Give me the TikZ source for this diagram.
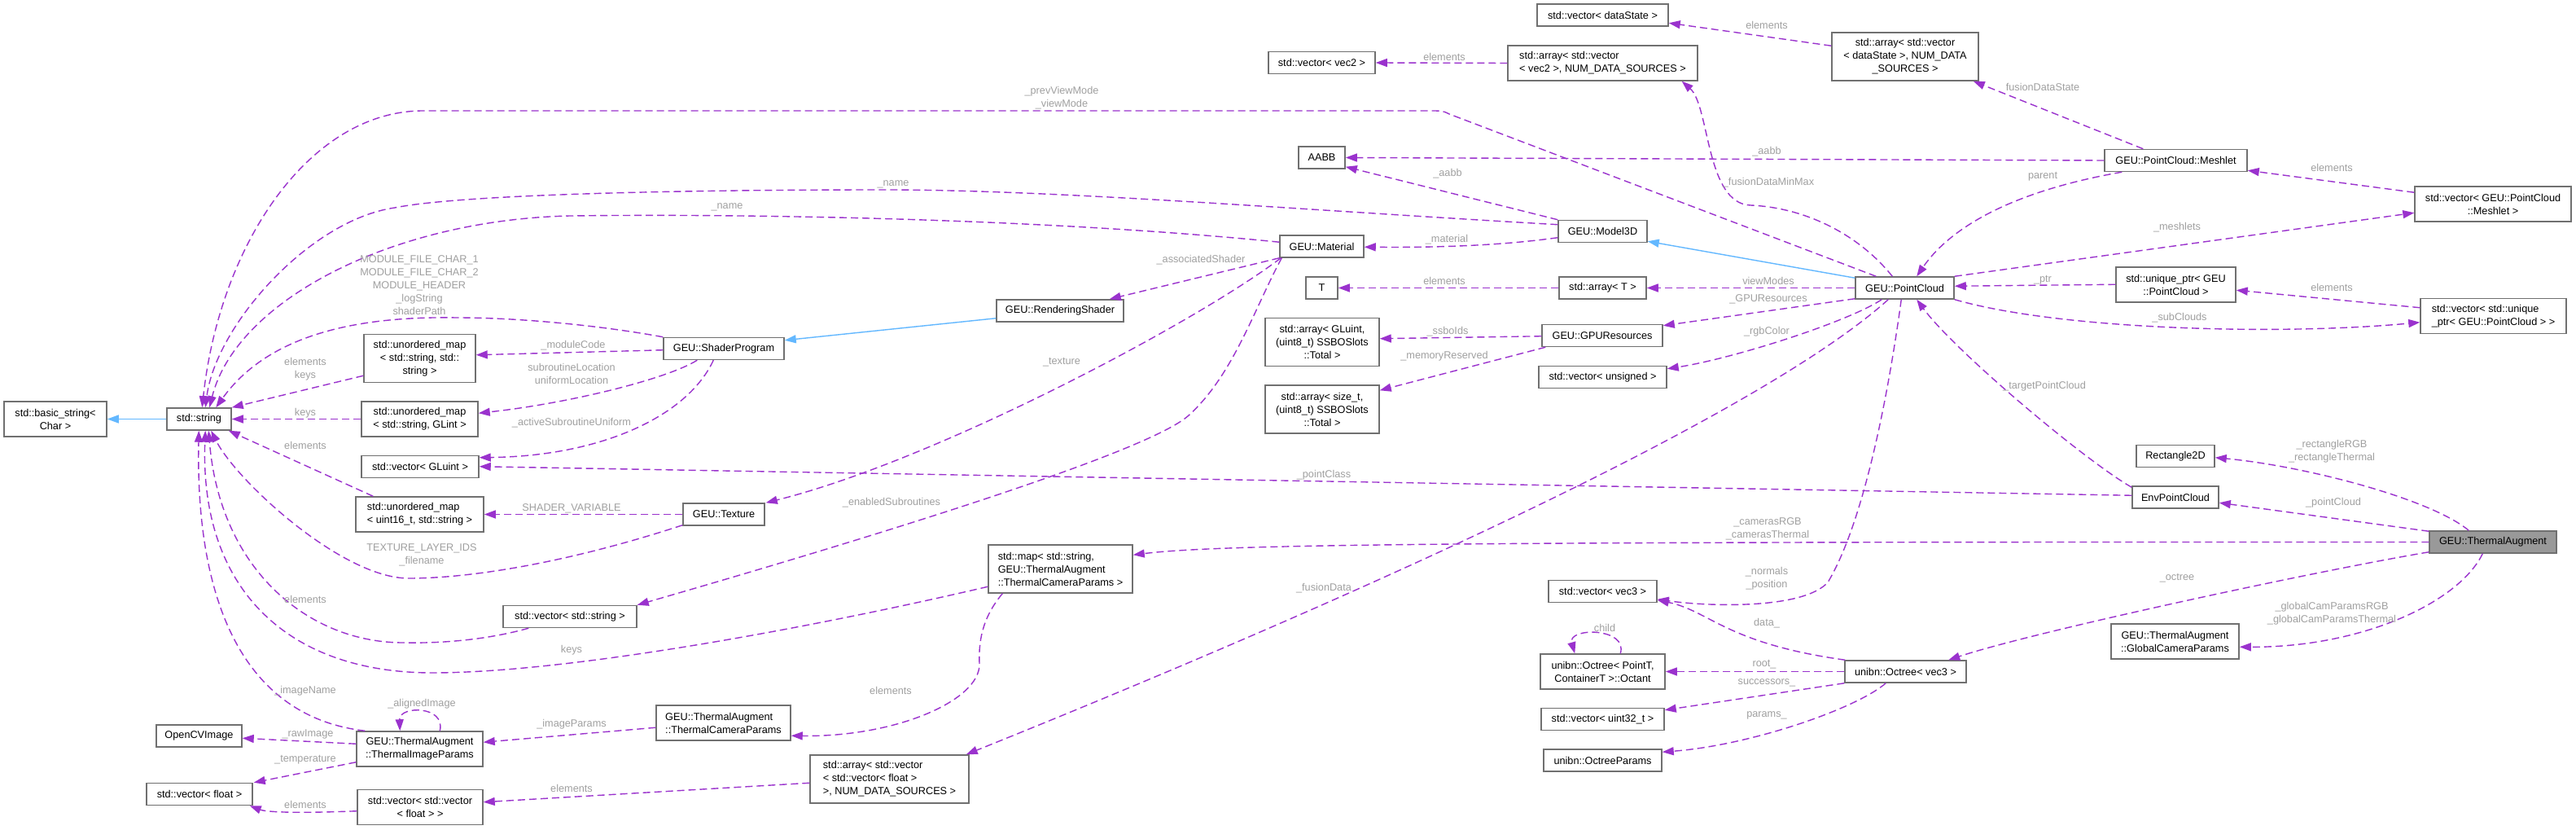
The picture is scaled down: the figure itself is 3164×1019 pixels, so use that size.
\documentclass[tikz,border=0pt]{standalone}
\usepackage{fontspec}
\setmainfont{Liberation Sans}
\usetikzlibrary{arrows.meta,calc}
\definecolor{purp}{HTML}{9A32CD}
\definecolor{inhblue}{HTML}{63B8FF}
\definecolor{boxgray}{HTML}{707070}
\definecolor{lblgray}{HTML}{A0A0A0}
\definecolor{tafill}{HTML}{999999}
\newcommand{\nf}{\fontsize{12.7}{16}\selectfont}
\tikzset{
  box/.style={draw=boxgray, line width=1.5pt, fill=white, inner sep=0pt, align=center, font=\nf},
  use/.style={draw=purp, line width=1.4pt, dash pattern=on 9pt off 5pt, -{Triangle[length=14pt,width=10pt]}},
  inh/.style={draw=inhblue, line width=1.4pt, -{Triangle[length=14pt,width=10pt]}},
  lbl/.style={text=lblgray, font=\nf, align=center, inner sep=0pt},
}
\begin{document}
\begin{tikzpicture}[x=1pt,y=-1pt]
\fill[white] (0,0) rectangle (3164,1019);
\path[use as bounding box] (0,0) rectangle (3164,1019);

% ---------------- nodes ----------------
\node[box,minimum width=126,minimum height=43] (bstr) at (68,514.5) {std::basic\_string<\\Char >};
\node[box,minimum width=79,minimum height=27] (str) at (244.5,514.5) {std::string};
\node[box,minimum width=137,minimum height=59] (um1) at (515.5,440) {std::unordered\_map\\< std::string, std::\\string >};
\node[box,minimum width=143,minimum height=43] (um2) at (515.5,514.5) {std::unordered\_map\\< std::string, GLint >};
\node[box,minimum width=144,minimum height=27] (vgl) at (516,573) {std::vector< GLuint >};
\node[box,minimum width=157,minimum height=43,align=left] (um3) at (515.5,631.5) {std::unordered\_map\\< uint16\_t, std::string >};
\node[box,minimum width=164,minimum height=27] (vstr) at (700,757) {std::vector< std::string >};
\node[box,minimum width=105,minimum height=27] (ocv) at (244.5,903.5) {OpenCVImage};
\node[box,minimum width=155,minimum height=43] (tip) at (515.5,919.5) {GEU::ThermalAugment\\::ThermalImageParams};
\node[box,minimum width=130,minimum height=27] (vf) at (245,975) {std::vector< float >};
\node[box,minimum width=154,minimum height=43] (vvf) at (516,991) {std::vector< std::vector\\< float > >};
\node[box,minimum width=148,minimum height=27] (sp) at (889,428) {GEU::ShaderProgram};
\node[box,minimum width=156,minimum height=27] (rs) at (1302,381.5) {GEU::RenderingShader};
\node[box,minimum width=103,minimum height=27] (mat) at (1623.5,302.5) {GEU::Material};
\node[box,minimum width=100,minimum height=27] (tex) at (889,631.5) {GEU::Texture};
\node[box,minimum width=177,minimum height=59,align=left] (map) at (1302.5,698.5) {std::map< std::string,\\ GEU::ThermalAugment\\::ThermalCameraParams >};
\node[box,minimum width=165,minimum height=43,align=left] (tcp) at (888.5,887.5) {GEU::ThermalAugment\\::ThermalCameraParams};
\node[box,minimum width=195,minimum height=59,align=left] (avvf) at (1092.5,956.5) {std::array< std::vector\\< std::vector< float >\\ >, NUM\_DATA\_SOURCES >};
\node[box,minimum width=161,minimum height=27] (vds) at (1968.5,18.5) {std::vector< dataState >};
\node[box,minimum width=131,minimum height=27] (vv2) at (1623.5,77) {std::vector< vec2 >};
\node[box,minimum width=233,minimum height=43,align=left] (av2) at (1968.5,77.5) {std::array< std::vector\\< vec2 >, NUM\_DATA\_SOURCES >};
\node[box,minimum width=180,minimum height=59] (ads) at (2340,69.5) {std::array< std::vector\\< dataState >, NUM\_DATA\\\_SOURCES >};
\node[box,minimum width=57,minimum height=27] (aabb) at (1623.5,193.5) {AABB};
\node[box,minimum width=109,minimum height=27] (m3d) at (1968.5,284) {GEU::Model3D};
\node[box,minimum width=39,minimum height=27] (T) at (1623.5,353.5) {T};
\node[box,minimum width=107,minimum height=27] (arrT) at (1968.5,353.5) {std::array< T >};
\node[box,minimum width=121,minimum height=27] (pc) at (2339.5,353.5) {GEU::PointCloud};
\node[box,minimum width=140,minimum height=59] (agl) at (1624,420) {std::array< GLuint,\\(uint8\_t) SSBOSlots\\::Total >};
\node[box,minimum width=140,minimum height=59] (asz) at (1624,502.5) {std::array< size\_t,\\(uint8\_t) SSBOSlots\\::Total >};
\node[box,minimum width=148,minimum height=27] (gpu) at (1968,412) {GEU::GPUResources};
\node[box,minimum width=157,minimum height=27] (vun) at (1968.5,463) {std::vector< unsigned >};
\node[box,minimum width=133,minimum height=27] (vv3) at (1968.5,726) {std::vector< vec3 >};
\node[box,minimum width=153,minimum height=43] (oct) at (1968.5,824.5) {unibn::Octree< PointT,\\ContainerT >::Octant};
\node[box,minimum width=151,minimum height=27] (vu32) at (1968.5,883) {std::vector< uint32\_t >};
\node[box,minimum width=145,minimum height=27] (opar) at (1968.5,933.5) {unibn::OctreeParams};
\node[box,minimum width=149,minimum height=27] (octree) at (2340.5,824.5) {unibn::Octree< vec3 >};
\node[box,minimum width=175,minimum height=27] (msh) at (2672.5,197) {GEU::PointCloud::Meshlet};
\node[box,minimum width=192,minimum height=43] (vm) at (3062,250.5) {std::vector< GEU::PointCloud\\::Meshlet >};
\node[box,minimum width=147,minimum height=43] (up) at (2672.5,349.5) {std::unique\_ptr< GEU\\::PointCloud >};
\node[box,minimum width=179,minimum height=43,align=left] (vup) at (3062.5,388) {std::vector< std::unique\\\_ptr< GEU::PointCloud > >};
\node[box,minimum width=96,minimum height=27] (rect) at (2672,560) {Rectangle2D};
\node[box,minimum width=106,minimum height=27] (epc) at (2672,610.5) {EnvPointCloud};
\node[box,minimum width=156,minimum height=27,fill=tafill] (ta) at (3062,665.5) {GEU::ThermalAugment};
\node[box,minimum width=157,minimum height=43] (gcp) at (2671.5,787.5) {GEU::ThermalAugment\\::GlobalCameraParams};

% ---------------- inheritance std::string ----------------
\draw[inh] (str.west) -- (bstr.east);

% ---------------- ThermalAugment ----------------
\draw[use] ($(ta.north west)+(49,0)$) .. controls (2985,612) and (2830,572) .. ($(rect.north east)+(0,16)$);
\node[lbl] (l1) at (2864,554) {\_rectangleRGB\\\_rectangleThermal};
\draw[use] ($(ta.north west)+(0,1)$) -- ($(epc.north east)+(0,21)$);
\node[lbl] (l2) at (2866,617) {\_pointCloud};
\draw[use] (ta.west) .. controls (1800,665) and (1500,668) .. ($(map.north east)+(0,13)$);
\node[lbl] (l3) at (2171,649) {\_camerasRGB\\\_camerasThermal};
\draw[use] ($(ta.south west)+(0,-2)$) .. controls (2850,700) and (2500,775) .. ($(octree.north west)+(128,0)$);
\node[lbl] (l4) at (2674,710) {\_octree};
\draw[use] ($(ta.south west)+(66,0)$) .. controls (3020,740) and (2900,795) .. ($(gcp.north east)+(0,29)$);
\node[lbl] (l5) at (2864,753) {\_globalCamParamsRGB\\\_globalCamParamsThermal};

% ---------------- EnvPointCloud ----------------
\draw[use] ($(epc.north west)+(0,2)$) .. controls (2560,565) and (2400,430) .. ($(pc.south west)+(76,0)$);
\node[lbl] (l6) at (2511,474) {\_targetPointCloud};
\draw[use] ($(epc.north west)+(0,12)$) -- ($(vgl.north east)+(0,14)$);
\node[lbl] (l7) at (1626,583) {\_pointClass};

% ---------------- PointCloud ----------------
\draw[inh] ($(pc.north west)+(0,2)$) -- ($(m3d.south east)+(0,-2)$);
\draw[use] (pc.west) -- (arrT.east);
\node[lbl] (l9) at (2172,345) {viewModes};
\draw[use] (arrT.west) -- (T.east);
\node[lbl] (l10) at (1774,345) {elements};
\draw[use] ($(pc.south west)+(0,-1)$) -- ($(gpu.north east)+(0,2)$);
\node[lbl] (l11) at (2172,367) {\_GPUResources};
\draw[use] ($(pc.south west)+(33,0)$) .. controls (2270,395) and (2130,440) .. ($(vun.north east)+(0,4)$);
\node[lbl] (l12) at (2170,407) {\_rgbColor};
\draw[use] ($(pc.south west)+(41,0)$) .. controls (2150,520) and (1600,760) .. ($(avvf.north east)+(-4,0)$);
\node[lbl] (l43) at (1626,722) {\_fusionData};
\draw[use] ($(pc.south west)+(57,0)$) .. controls (2320,480) and (2290,640) .. (2245,715) .. controls (2215,748) and (2100,745) .. ($(vv3.north east)+(0,24)$);
\node[lbl] (l44) at (2170,710) {\_normals\\\_position};
\draw[use] ($(pc.north west)+(46,0)$) .. controls (2285,290) and (2220,255) .. (2150,252) .. controls (2095,250) and (2100,130) .. ($(av2.south east)+(-20,0)$);
\node[lbl] (l50) at (2172,224) {\_fusionDataMinMax};
\draw[use] ($(pc.north west)+(26,0)$) -- (1780,140) .. controls (1772,136) .. (1755,136) -- (520,136) .. controls (380,136) and (270,300) .. ($(str.north west)+(44,0)$);
\node[lbl] (l18) at (1304,120) {\_prevViewMode\\\_viewMode};
\draw[use] (pc.north east) -- ($(vm.north west)+(0,33)$);
\node[lbl] (l57) at (2674,279) {\_meshlets};
\draw[use] (pc.south east) .. controls (2530,405) and (2800,412) .. ($(vup.north west)+(0,30)$);
\node[lbl] (l60) at (2677,390) {\_subClouds};

% ---------------- Meshlet & co ----------------
\draw[use] ($(msh.north west)+(48,0)$) -- ($(ads.south east)+(-7,0)$);
\node[lbl] (l53) at (2509,107) {fusionDataState};
\draw[use] (msh.west) -- (aabb.east);
\node[lbl] (l54) at (2170,186) {\_aabb};
\draw[use] ($(msh.south west)+(22,0)$) .. controls (2470,235) and (2395,280) .. ($(pc.north west)+(76,0)$);
\node[lbl] (l55) at (2509,217) {parent};
\draw[use] ($(vm.north west)+(0,8)$) -- ($(msh.south east)+(0,-2)$);
\node[lbl] (l56) at (2864,206) {elements};
\draw[use] ($(up.north west)+(0,22)$) -- ($(pc.north east)+(0,12)$);
\node[lbl] (l58) at (2509,344) {\_ptr};
\draw[use] ($(vup.north west)+(0,12)$) -- ($(up.north east)+(0,29)$);
\node[lbl] (l59) at (2864,353) {elements};

% ---------------- arrays ----------------
\draw[use] (av2.west) -- (vv2.east);
\node[lbl] (l51) at (1774,70) {elements};
\draw[use] ($(ads.north west)+(0,17)$) -- ($(vds.north east)+(0,24)$);
\node[lbl] (l52) at (2170,31) {elements};

% ---------------- Model3D ----------------
\draw[use] (m3d.north west) -- ($(aabb.south east)+(0,-3)$);
\node[lbl] (l15) at (1778,213) {\_aabb};
\draw[use] ($(m3d.north west)+(0,22)$) .. controls (1840,302) and (1760,304) .. ($(mat.north east)+(0,15)$);
\node[lbl] (l16) at (1777,294) {\_material};
\draw[use] ($(m3d.north west)+(0,6)$) .. controls (1600,258) and (1300,233) .. (1086,233) .. controls (800,233) and (560,240) .. (485,255) .. controls (380,270) and (265,400) .. ($(str.north west)+(48,0)$);
\node[lbl] (l17) at (1097,226) {\_name};

% ---------------- GPUResources ----------------
\draw[use] ($(gpu.north west)+(0,15)$) -- ($(agl.north east)+(0,26)$);
\node[lbl] (l13) at (1778,407) {\_ssboIds};
\draw[use] ($(gpu.south west)+(5,0)$) -- ($(asz.north east)+(0,7)$);
\node[lbl] (l14) at (1774,437) {\_memoryReserved};

% ---------------- Material ----------------
\draw[use] ($(mat.north west)+(0,9)$) .. controls (1300,270) and (950,262) .. (700,265) .. controls (480,270) and (290,370) .. ($(str.north west)+(53,0)$);
\node[lbl] (l19) at (893,254) {\_name};
\draw[use] (mat.south west) -- ($(rs.north east)+(-18,0)$);
\node[lbl] (l20) at (1475,319) {\_associatedShader};
\draw[use] ($(mat.south west)+(2,0)$) .. controls (1470,395) and (1150,565) .. ($(tex.north east)+(1,0)$);
\node[lbl] (l21) at (1304,445) {\_texture};
\draw[use] ($(mat.south west)+(3,0)$) .. controls (1540,380) and (1515,460) .. (1460,510) .. controls (1405,560) and (1000,680) .. (vstr.north east);
\node[lbl] (l22) at (1095,617) {\_enabledSubroutines};

% ---------------- RenderingShader / ShaderProgram ----------------
\draw[inh] ($(rs.south west)+(0,-5)$) -- ($(sp.north east)+(0,4)$);
\draw[use] (sp.north west) .. controls (740,400) and (640,390) .. (561,390) .. controls (440,388) and (330,410) .. ($(str.north west)+(61,0)$);
\node[lbl] (l24) at (515,350) {MODULE\_FILE\_CHAR\_1\\MODULE\_FILE\_CHAR\_2\\MODULE\_HEADER\\\_logString\\shaderPath};
\draw[use] ($(sp.north west)+(0,16)$) -- ($(um1.north east)+(0,26)$);
\node[lbl] (l25) at (704,424) {\_moduleCode};
\draw[use] ($(sp.south west)+(42,0)$) .. controls (820,465) and (700,495) .. ($(um2.north east)+(0,15)$);
\node[lbl] (l26) at (702,459) {subroutineLocation\\uniformLocation};
\draw[use] ($(sp.south west)+(62,0)$) .. controls (845,510) and (740,560) .. ($(vgl.north east)+(0,3)$);
\node[lbl] (l27) at (702,519) {\_activeSubroutineUniform};

% ---------------- Texture ----------------
\draw[use] (tex.west) -- (um3.east);
\node[lbl] (l28) at (702,624) {SHADER\_VARIABLE};
\draw[use] ($(tex.south west)+(0,-1)$) .. controls (700,690) and (580,710) .. (502,710) .. controls (420,710) and (290,590) .. ($(str.south west)+(55,0)$);
\node[lbl] (l29) at (518,681) {TEXTURE\_LAYER\_IDS\\\_filename};

% ---------------- std::string users ----------------
\draw[use] ($(um1.south west)+(0,-9)$) -- (str.north east);
\node[lbl] (l30) at (375,453) {elements\\keys};
\draw[use] (um2.west) -- (str.east);
\node[lbl] (l31) at (375,507) {keys};
\draw[use] ($(um3.north west)+(22,0)$) -- ($(str.south east)+(-4,0)$);
\node[lbl] (l32) at (375,547) {elements};
\draw[use] ($(vstr.south west)+(32,0)$) .. controls (600,785) and (545,790) .. (497,789) .. controls (380,790) and (270,700) .. ($(str.south west)+(52,0)$);
\node[lbl] (l33) at (375,736) {elements};
\draw[use] ($(map.north west)+(0,52)$) .. controls (1000,770) and (700,826) .. (531,826) .. controls (350,826) and (245,720) .. ($(str.south west)+(48,0)$);
\node[lbl] (l34) at (702,798) {keys};
\draw[use] ($(tip.north west)+(11,0)$) .. controls (300,880) and (240,740) .. ($(str.south west)+(40,0)$);
\node[lbl] (l35) at (375,848) {\_imageName};
\draw[use] ($(tip.north west)+(103,0)$) .. controls (548,866) and (490,866) .. ($(tip.north west)+(54,0)$);
\node[lbl] (l36) at (518,864) {\_alignedImage};
\draw[use] ($(tip.north west)+(0,16)$) -- ($(ocv.north east)+(0,17)$);
\node[lbl] (l37) at (378,901) {\_rawImage};
\draw[use] ($(tip.south west)+(0,-6)$) -- ($(vf.north east)+(1,0)$);
\node[lbl] (l38) at (375,933) {\_temperature};
\draw[use] ($(vvf.north west)+(0,27)$) .. controls (380,998) and (330,998) .. ($(vf.south east)+(-4,0)$);
\node[lbl] (l39) at (375,988) {elements};
\draw[use] ($(tcp.north west)+(0,28)$) -- ($(tip.north east)+(0,14)$);
\node[lbl] (l40) at (702,889) {\_imageParams};
\draw[use] ($(map.south west)+(18,0)$) .. controls (1205,760) and (1202,790) .. (1203,815) .. controls (1204,860) and (1100,905) .. ($(tcp.north east)+(0,38)$);
\node[lbl] (l41) at (1094,848) {elements};
\draw[use] ($(avvf.north west)+(0,35)$) -- ($(vvf.north east)+(0,16)$);
\node[lbl] (l42) at (702,968) {elements};

% ---------------- Octree ----------------
\draw[use] ($(octree.north west)+(1,0)$) .. controls (2120,790) and (2100,750) .. ($(vv3.north east)+(0,25)$);
\node[lbl] (l45) at (2170,765) {data\_};
\draw[use] (octree.west) -- (oct.east);
\node[lbl] (l46) at (2167,816) {root\_};
\draw[use] ($(oct.north west)+(99,0)$) .. controls (2000,770) and (1925,770) .. ($(oct.north west)+(43,0)$);
\node[lbl] (l47) at (1971,771) {child};
\draw[use] (octree.south west) -- ($(vu32.north east)+(0,3)$);
\node[lbl] (l48) at (2170,838) {successors\_};
\draw[use] ($(octree.south west)+(51,0)$) .. controls (2280,870) and (2150,915) .. ($(opar.north east)+(0,4)$);
\node[lbl] (l49) at (2170,878) {params\_};
\end{tikzpicture}
\end{document}
